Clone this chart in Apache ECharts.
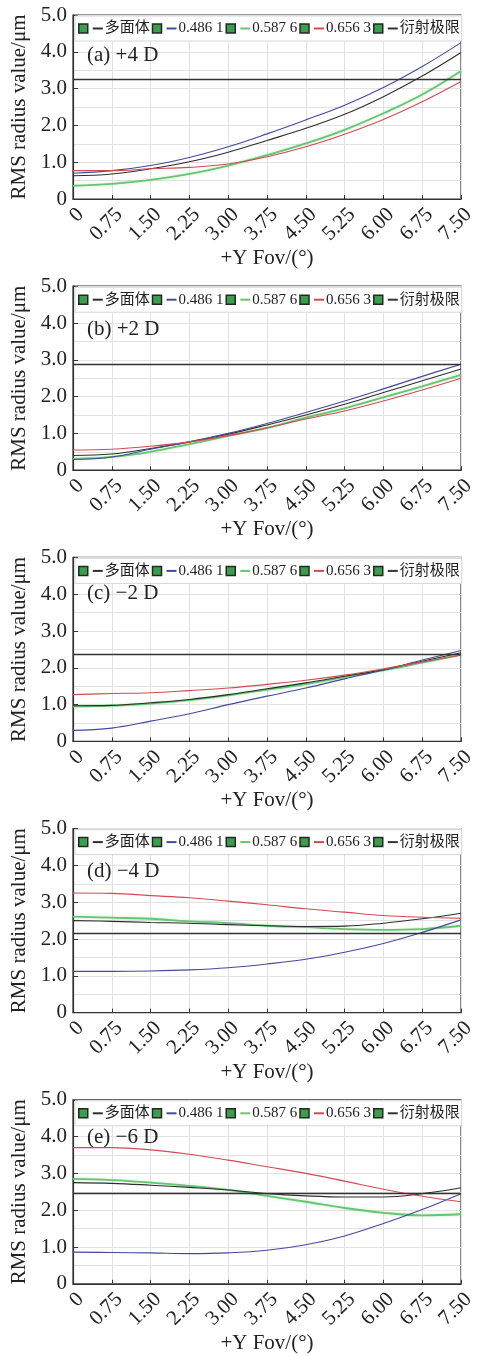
<!DOCTYPE html>
<html>
<head>
<meta charset="utf-8">
<script src="https://cdn.jsdelivr.net/npm/echarts@6/dist/echarts.min.js"></script>
<style>
  html, body { margin: 0; padding: 0; background: #fff; }
  #chart { width: 478px; height: 1356px; }
</style>
</head>
<body>
<div id="chart"></div>
<script>
// Field of view (°) ticks along the x axis
const xTicks = ['0', '0.75', '1.50', '2.25', '3.00', '3.75', '4.50', '5.25', '6.00', '6.75', '7.50'];
// RMS radius tick labels (μm)
const yTickLabels = ['0', '1.0', '2.0', '3.0', '4.0', '5.0'];

const seriesNames = ['多面体', '0.486 1', '0.587 6', '0.656 3', '衍射极限'];
const panelLabels = ['(a) +4 D', '(b) +2 D', '(c) −2 D', '(d) −4 D', '(e) −6 D'];

// Polychromatic RMS radius per panel
const polyA = [0.63, 0.68, 0.82, 1.01, 1.27, 1.59, 1.92, 2.30, 2.78, 3.34, 3.98];
const polyB = [0.40, 0.44, 0.59, 0.77, 0.98, 1.23, 1.50, 1.79, 2.11, 2.43, 2.75];
const polyC = [0.97, 0.98, 1.05, 1.14, 1.27, 1.43, 1.59, 1.77, 1.95, 2.18, 2.41];
const polyD = [2.50, 2.48, 2.45, 2.43, 2.39, 2.36, 2.34, 2.35, 2.43, 2.55, 2.70];
const polyE = [2.75, 2.73, 2.68, 2.62, 2.55, 2.45, 2.39, 2.36, 2.36, 2.45, 2.61];

// 0.486 1 μm
const blueA = [0.70, 0.77, 0.91, 1.13, 1.42, 1.77, 2.15, 2.55, 3.03, 3.60, 4.25];
const blueB = [0.29, 0.36, 0.57, 0.77, 1.00, 1.27, 1.57, 1.88, 2.21, 2.55, 2.88];
const blueC = [0.30, 0.36, 0.55, 0.75, 1.00, 1.23, 1.45, 1.70, 1.94, 2.21, 2.47];
const blueD = [1.12, 1.12, 1.13, 1.16, 1.22, 1.32, 1.45, 1.64, 1.88, 2.18, 2.52];
const blueE = [0.86, 0.85, 0.84, 0.82, 0.84, 0.91, 1.06, 1.30, 1.64, 2.02, 2.45];

// 0.587 6 μm
const greenA = [0.36, 0.41, 0.52, 0.68, 0.91, 1.19, 1.51, 1.88, 2.33, 2.84, 3.48];
const greenB = [0.31, 0.36, 0.50, 0.71, 0.93, 1.15, 1.43, 1.68, 1.98, 2.28, 2.59];
const greenC = [0.95, 0.97, 1.03, 1.12, 1.25, 1.40, 1.56, 1.75, 1.93, 2.14, 2.36];
const greenD = [2.61, 2.58, 2.55, 2.48, 2.43, 2.36, 2.32, 2.27, 2.25, 2.27, 2.36];
const greenE = [2.85, 2.82, 2.75, 2.66, 2.55, 2.39, 2.23, 2.06, 1.93, 1.86, 1.89];

// 0.656 3 μm
const redA = [0.77, 0.77, 0.82, 0.86, 0.95, 1.15, 1.42, 1.76, 2.16, 2.64, 3.19];
const redB = [0.55, 0.57, 0.65, 0.77, 0.94, 1.15, 1.39, 1.61, 1.88, 2.18, 2.50];
const redC = [1.27, 1.30, 1.32, 1.38, 1.45, 1.55, 1.66, 1.80, 1.97, 2.16, 2.34];
const redD = [3.25, 3.24, 3.18, 3.12, 3.03, 2.93, 2.82, 2.73, 2.64, 2.59, 2.56];
const redE = [3.70, 3.70, 3.64, 3.52, 3.36, 3.18, 3.00, 2.79, 2.57, 2.38, 2.23];

// Diffraction limit per panel
const diffLimit = [3.25, 2.88, 2.38, 2.16, 2.45];

const polyData = [polyA, polyB, polyC, polyD, polyE];
const blueData = [blueA, blueB, blueC, blueD, blueE];
const greenData = [greenA, greenB, greenC, greenD, greenE];
const redData = [redA, redB, redC, redD, redE];

// ---- layout & style ----
const FONT = '"Liberation Serif", "Times New Roman", "Noto Sans CJK SC", serif';
const TEXT = '#222';
const lineColors = ['#2e2e2e', '#434a9c', '#66c570', '#d44a52', '#333333'];
const PANEL_STEP = 271.2;
const PLOT_TOP = 15;
const PLOT_H = 184;
const PLOT_LEFT = 73;
const PLOT_RIGHT = 12;
const labelCenters = [41, 44, 37, 43, 38];

const grids = [], xAxes = [], yAxes = [], series = [], titles = [], legends = [];

// short coloured dash drawn after each legend swatch
const rich = {};
lineColors.forEach((c, i) => {
  rich['d' + i] = { width: 10, height: 2, backgroundColor: c, verticalAlign: 'middle' };
  rich['s' + i] = { width: 2 };
});

for (let p = 0; p < 5; p++) {
  const top = PLOT_TOP + PANEL_STEP * p;
  grids.push({
    left: PLOT_LEFT, right: PLOT_RIGHT, top: top, height: PLOT_H,
    show: true, borderColor: '#333', borderWidth: 1.2, backgroundColor: '#fff'
  });
  xAxes.push({
    gridIndex: p, type: 'category', data: xTicks, boundaryGap: false,
    name: '+Y Fov/(°)', nameLocation: 'middle', nameGap: 49,
    nameTextStyle: { fontFamily: FONT, fontSize: 21, color: TEXT },
    axisLine: { lineStyle: { color: '#333', width: 1.2 } },
    axisTick: { inside: true, length: 4, interval: 0, lineStyle: { color: '#333' } },
    axisLabel: {
      interval: 0, rotate: 45, margin: 5, verticalAlign: 'top',
      fontFamily: FONT, fontSize: 21, color: TEXT
    },
    splitLine: { show: true, interval: 0, lineStyle: { color: '#e2e2e2', width: 1 } }
  });
  yAxes.push({
    gridIndex: p, type: 'value', min: 0, max: 5, interval: 1,
    name: 'RMS radius value/μm', nameLocation: 'middle', nameGap: 42,
    nameTextStyle: { fontFamily: FONT, fontSize: 21, color: TEXT },
    axisLine: { show: true, lineStyle: { color: '#333', width: 1.2 } },
    axisTick: { show: true, inside: true, length: 5, lineStyle: { color: '#333' } },
    axisLabel: {
      margin: 6, fontFamily: FONT, fontSize: 21, color: TEXT,
      formatter: v => yTickLabels[Math.round(v)]
    },
    splitLine: { show: true, lineStyle: { color: '#e2e2e2', width: 1 } },
    minorTick: { show: false, splitNumber: 2 },
    minorSplitLine: { show: true, lineStyle: { color: '#e2e2e2', width: 1 } }
  });

  const curves = [polyData[p], blueData[p], greenData[p], redData[p]];
  curves.forEach((d, k) => {
    const isGreen = k === 2;
    series.push({
      name: seriesNames[k], type: 'line', xAxisIndex: p, yAxisIndex: p,
      data: d, smooth: 0.4, showSymbol: false, symbol: 'none',
      z: isGreen ? 2 : 3,
      lineStyle: isGreen
        ? { color: lineColors[k], width: 1.8, shadowColor: 'rgba(102,197,112,0.4)', shadowBlur: 3 }
        : { color: lineColors[k], width: 1.1 },
      itemStyle: { color: lineColors[k] }
    });
  });
  series.push({
    name: seriesNames[4], type: 'line', xAxisIndex: p, yAxisIndex: p,
    data: [], symbol: 'none',
    lineStyle: { color: lineColors[4], width: 1.3 },
    itemStyle: { color: lineColors[4] },
    markLine: {
      silent: true, symbol: ['none', 'none'], label: { show: false },
      lineStyle: { color: lineColors[4], width: 1.3, type: 'solid' },
      data: [{ yAxis: diffLimit[p] }]
    }
  });

  titles.push({
    text: panelLabels[p], left: 87, top: top + labelCenters[p] - 11, padding: 0,
    textStyle: { fontFamily: FONT, fontSize: 21, fontWeight: 'normal', color: TEXT }
  });
  legends.push({
    data: seriesNames, left: PLOT_LEFT + 2, top: top + 1, width: 430,
    orient: 'horizontal', icon: 'rect', itemWidth: 9, itemHeight: 9, itemGap: 2,
    padding: [5, 2, 5, 3], backgroundColor: '#fff', borderColor: '#d6d6d6', borderWidth: 1,
    selectedMode: false,
    itemStyle: { color: '#3f9b4d', borderColor: '#1f2b22', borderWidth: 1.5 },
    textStyle: { fontFamily: FONT, fontSize: 15, color: TEXT, rich: rich },
    formatter: name => {
      const i = seriesNames.indexOf(name);
      return '{d' + i + '| }{s' + i + '| }' + name;
    }
  });
}

const chart = echarts.init(document.getElementById('chart'), null, { renderer: 'canvas' });
chart.setOption({
  animation: false,
  backgroundColor: '#fff',
  title: titles,
  legend: legends,
  grid: grids,
  xAxis: xAxes,
  yAxis: yAxes,
  series: series
});
</script>
</body>
</html>
